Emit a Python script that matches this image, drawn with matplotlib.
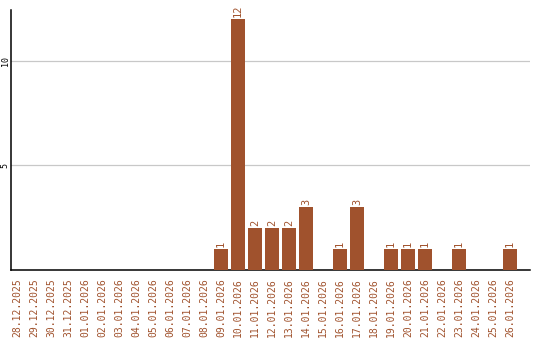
import matplotlib
matplotlib.use('Agg')
import matplotlib.pyplot as plt

dates = ['28.12.2025', '29.12.2025', '30.12.2025', '31.12.2025',
         '01.01.2026', '02.01.2026', '03.01.2026', '04.01.2026',
         '05.01.2026', '06.01.2026', '07.01.2026', '08.01.2026',
         '09.01.2026', '10.01.2026', '11.01.2026', '12.01.2026',
         '13.01.2026', '14.01.2026', '15.01.2026', '16.01.2026',
         '17.01.2026', '18.01.2026', '19.01.2026', '20.01.2026',
         '21.01.2026', '22.01.2026', '23.01.2026', '24.01.2026',
         '25.01.2026', '26.01.2026']
counts = [0, 0, 0, 0, 0, 0, 0, 0, 0, 0, 0, 0,
          1, 12, 2, 2, 2, 3, 0, 1, 3, 0, 1, 1, 1, 0, 1, 0, 0, 1]
y_ticks = [5, 10]

bar_color = '#A0522D'
font = 'DejaVu Sans Mono'

fig = plt.figure(figsize=(5.4, 3.4), dpi=100)
ax = fig.add_axes([11 / 540, 70 / 340, 519 / 540, 260 / 340])

x = list(range(len(dates)))
ax.bar(x, counts, width=0.82, color=bar_color, zorder=3)
for xi, c in zip(x, counts):
    if c > 0:
        ax.text(xi, c + 0.12, str(c), rotation=90, ha='center', va='bottom',
                color=bar_color, fontsize=7.5, family=font, zorder=4)

ax.set_xlim(-0.35, 30.18)
ax.set_ylim(0, 12.44)
ax.set_yticks(y_ticks)
ax.set_yticklabels([str(t) for t in y_ticks], rotation=90, va='center',
                   fontsize=6, family=font)
ax.tick_params(axis='y', length=0, pad=1)
ax.set_xticks(x)
ax.set_xticklabels(dates, rotation=90, fontsize=7, family=font, color=bar_color)
ax.tick_params(axis='x', length=0, pad=6)
ax.grid(axis='y', color='#c8c8c8', linewidth=0.9, zorder=0)
for side in ['top', 'right']:
    ax.spines[side].set_visible(False)
ax.spines['left'].set_linewidth(1.1)
ax.spines['bottom'].set_linewidth(1.1)

fig.savefig('out.png', dpi=100)
